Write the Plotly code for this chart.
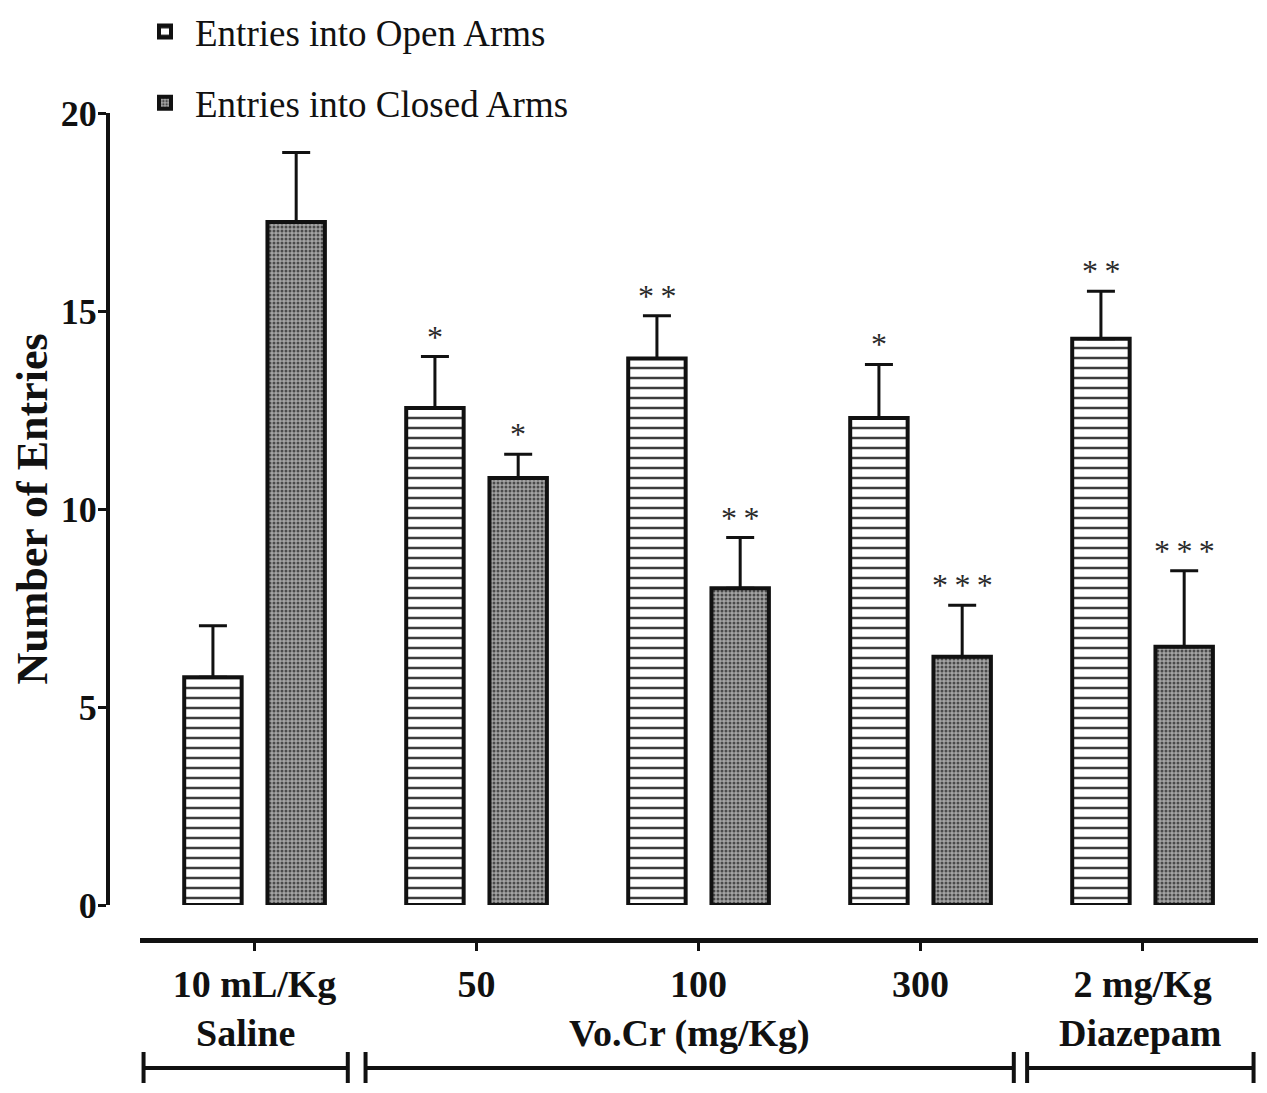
import plotly.graph_objects as go

# doses on the x axis and the group brackets underneath
doses = ["10 mL/Kg", "50", "100", "300", "2 mg/Kg"]
treatments = ["Saline", "Vo.Cr (mg/Kg)", "Diazepam"]
treatment_span = [(-0.5, 0.42), (0.5, 3.42), (3.48, 4.5)]

open_mean = [5.75, 12.55, 13.8, 12.3, 14.3]
open_sem = [1.3, 1.3, 1.08, 1.35, 1.2]
open_sig = ["", "*", "**", "*", "**"]

closed_mean = [17.25, 10.78, 8.0, 6.27, 6.52]
closed_sem = [1.75, 0.6, 1.28, 1.3, 1.92]
closed_sig = ["", "*", "**", "***", "***"]

# page body has an 8px margin, so the figure is a bit smaller than the window
W, H = 1267 - 16, 1093 - 16
FONT = "Liberation Serif"
half_offset = 41.5  # px between group centre and each bar centre


def px_x(p):
    return (p - 8) / W


def px_y(p):
    return 1 - (p - 8) / H


fig = go.Figure()

fig.add_trace(go.Bar(
    x=doses, y=open_mean, name="Entries into Open Arms", legendgroup="open",
    marker=dict(color="white",
                line=dict(color="#111111", width=4),
                pattern=dict(shape="-", size=10, solidity=0.25,
                             fgcolor="#3c3c3c", bgcolor="white", fillmode="replace")),
    error_y=dict(type="data", symmetric=False, array=open_sem,
                 arrayminus=[0] * len(open_sem),
                 color="#111111", thickness=3, width=14),
))

fig.add_trace(go.Bar(
    x=doses, y=closed_mean, name="Entries into Closed Arms", legendgroup="closed",
    marker=dict(color="#8e8e8e",
                line=dict(color="#111111", width=4),
                pattern=dict(shape=".", size=4, solidity=0.45,
                             fgcolor="#4a4a4a", bgcolor="#a4a4a4", fillmode="replace")),
    error_y=dict(type="data", symmetric=False, array=closed_sem,
                 arrayminus=[0] * len(closed_sem),
                 color="#111111", thickness=3, width=14),
))

# significance stars over the error bars (x as category index)
for means, sems, sigs, shift in [(open_mean, open_sem, open_sig, -half_offset),
                                 (closed_mean, closed_sem, closed_sig, half_offset)]:
    for i, (m, s, t) in enumerate(zip(means, sems, sigs)):
        if not t:
            continue
        fig.add_annotation(x=i, y=m + s, text="\u2009".join(t), showarrow=False,
                           xref="x", yref="y", xshift=shift, yshift=0,
                           yanchor="bottom",
                           font=dict(family=FONT, size=32, color="#2a2a2a"))

# treatment labels and brackets under the dose labels
for name, (a, b) in zip(treatments, treatment_span):
    fig.add_annotation(x=(a + b) / 2, y=px_y(1033), text=name,
                       xref="x", yref="paper", showarrow=False,
                       xanchor="center", yanchor="middle",
                       font=dict(family=FONT, size=38, color="#111111", weight="bold"))
    fig.add_shape(type="line", xref="x", yref="paper", x0=a, x1=b,
                  y0=px_y(1068), y1=px_y(1068), line=dict(color="#111111", width=4))
    for e in (a, b):
        fig.add_shape(type="line", xref="x", yref="paper", x0=e, x1=e,
                      y0=px_y(1052), y1=px_y(1083), line=dict(color="#111111", width=4))

fig.update_layout(
    width=W, height=H,
    margin=dict(l=0, r=0, t=0, b=0, autoexpand=False),
    paper_bgcolor="white", plot_bgcolor="white",
    barmode="group", bargap=0.25, bargroupgap=0.31,
    font=dict(family=FONT, color="#111111"),
    legend=dict(x=px_x(135), y=px_y(1), xanchor="left", yanchor="top",
                font=dict(family=FONT, size=37, color="#111111"),
                tracegroupgap=20, traceorder="grouped", itemwidth=50,
                bgcolor="rgba(0,0,0,0)"),
    xaxis=dict(type="category", domain=[px_x(140), px_x(1258)], range=[-0.516, 4.52],
               anchor="free", position=px_y(940),
               showline=True, linecolor="#111111", linewidth=5,
               ticks="outside", ticklen=8, tickwidth=3, tickcolor="#111111",
               ticklabelstandoff=0,
               tickfont=dict(family=FONT, size=38, color="#111111", weight="bold"),
               showgrid=False, zeroline=False, automargin=False),
    yaxis=dict(domain=[px_y(905), px_y(113)], range=[0, 20],
               anchor="free", position=px_x(108),
               tickvals=[0, 5, 10, 15, 20],
               showline=True, linecolor="#111111", linewidth=4,
               ticks="outside", ticklen=8, tickwidth=3, tickcolor="#111111",
               ticklabelstandoff=-6,
               tickfont=dict(family=FONT, size=36, color="#111111", weight="bold"),
               title=dict(text="Number of Entries", standoff=26,
                          font=dict(family=FONT, size=44, color="#111111", weight="bold")),
               showgrid=False, zeroline=False, automargin=False),
)

fig.write_html("out.html")
